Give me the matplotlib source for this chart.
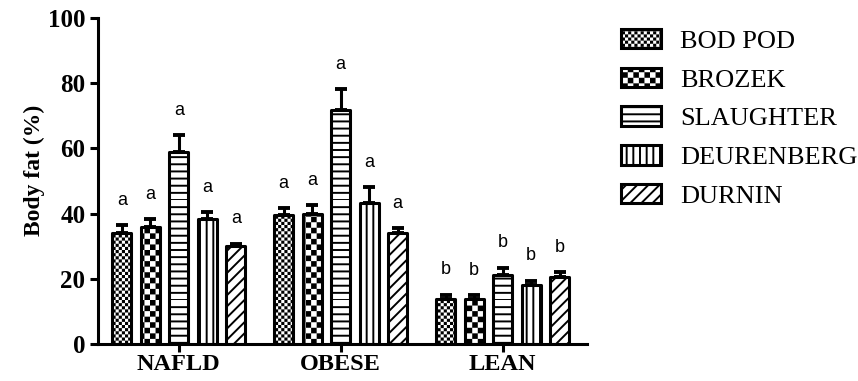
import warnings
import numpy as np
import matplotlib
matplotlib.use("Agg")
import matplotlib.pyplot as plt
from matplotlib import hatch as mhatch
from matplotlib.path import Path
from matplotlib.patches import Patch

warnings.filterwarnings("ignore")

groups = ["NAFLD", "OBESE", "LEAN"]
methods = ["BOD POD", "BROZEK", "SLAUGHTER", "DEURENBERG", "DURNIN"]

# mean body fat (%) per group, one value per method
nafld_mean = [34.0, 36.0, 59.0, 38.2, 30.0]
obese_mean = [39.5, 39.8, 71.7, 43.3, 33.9]
lean_mean = [13.8, 13.8, 21.3, 18.0, 20.5]

# upper error (SEM)
nafld_err = [2.4, 2.2, 5.0, 2.3, 0.8]
obese_err = [2.2, 2.7, 6.5, 4.9, 1.7]
lean_err = [1.3, 1.1, 2.1, 1.4, 1.6]

letters = ["a", "a", "b"]

plt.rcParams["hatch.linewidth"] = 1.4
plt.rcParams["hatch.color"] = "black"


class CheckerHatch(mhatch.HatchPatternBase):
    """Filled checkerboard squares; every 'c' adds two cells per tile."""

    def __init__(self, hatch, density):
        self.n = hatch.count("c") * 2
        self.num_vertices = (self.n * self.n // 2) * 5

    def set_vertices_and_codes(self, vertices, codes):
        n = self.n
        cell = 1.0 / n
        shrink = plt.rcParams["hatch.linewidth"] / 72.0 / 2
        k = 0
        for i in range(n):
            for j in range(n):
                if (i + j) % 2:
                    continue
                x0, y0 = i * cell + shrink, j * cell + shrink
                x1, y1 = (i + 1) * cell - shrink, (j + 1) * cell - shrink
                vertices[k:k + 5] = [(x0, y0), (x1, y0), (x1, y1), (x0, y1), (x0, y0)]
                codes[k:k + 5] = [Path.MOVETO, Path.LINETO, Path.LINETO,
                                  Path.LINETO, Path.CLOSEPOLY]
                k += 5


class LineHatch(mhatch.HatchPatternBase):
    """Evenly spaced lines: 'h' horizontal, 'v' vertical, one line per char."""

    def __init__(self, hatch, density):
        self.nh = hatch.count("h")
        self.nv = hatch.count("v")
        self.num_vertices = (self.nh + self.nv) * 2

    def set_vertices_and_codes(self, vertices, codes):
        k = 0
        if self.nh:
            for y in np.linspace(0, 1, self.nh, endpoint=False):
                vertices[k:k + 2] = [(0, y), (1, y)]
                codes[k:k + 2] = [Path.MOVETO, Path.LINETO]
                k += 2
        if self.nv:
            for x in np.linspace(0, 1, self.nv, endpoint=False):
                vertices[k:k + 2] = [(x, 0), (x, 1)]
                codes[k:k + 2] = [Path.MOVETO, Path.LINETO]
                k += 2


mhatch._hatch_types.append(CheckerHatch)
mhatch._hatch_types.append(LineHatch)

hatches = ["c" * 16, "c" * 9, "h" * 14, "v" * 15, "///"]

means = np.array([nafld_mean, obese_mean, lean_mean])
errs = np.array([nafld_err, obese_err, lean_err])

fig = plt.figure(figsize=(8.58, 3.81), dpi=100)
ax = fig.add_axes([0.114, 0.097, 0.570, 0.856])

serif = "Liberation Serif"
lw = 2.2
pitch = 0.176
width = 0.118
x = np.arange(len(groups))

for m, (name, hatch) in enumerate(zip(methods, hatches)):
    xs = x + (m - 2) * pitch
    ax.bar(xs, means[:, m], width, color="white", edgecolor="black",
           linewidth=lw, hatch=hatch, joinstyle="round", zorder=2)
    ax.errorbar(xs, means[:, m], yerr=[np.zeros(len(groups)), errs[:, m]],
                fmt="none", ecolor="black", elinewidth=lw, capsize=4.3,
                capthick=lw + 0.6, zorder=3)
    for g in range(len(groups)):
        ax.text(xs[g], means[g, m] + errs[g, m] + 5, letters[g],
                ha="center", va="bottom", fontsize=13,
                family="Liberation Sans")

ax.set_xlim(-0.5, 2.52)
ax.set_ylim(0, 100)
ax.set_yticks(np.arange(0, 101, 20))
ax.set_xticks(x)
ax.set_xticklabels(groups, fontsize=17.5, fontweight="bold", family=serif)
for t in ax.get_yticklabels():
    t.set_fontsize(18)
    t.set_fontweight("bold")
    t.set_family(serif)
ax.set_ylabel("Body fat (%)", fontsize=17, fontweight="bold", family=serif)
ax.yaxis.set_label_coords(-0.108, 0.534)

for side in ["top", "right"]:
    ax.spines[side].set_visible(False)
for side in ["left", "bottom"]:
    ax.spines[side].set_linewidth(lw)
ax.tick_params(axis="both", length=6, width=lw, pad=3)
ax.tick_params(axis="x", pad=1)

handles = [Patch(facecolor="white", edgecolor="black", linewidth=lw,
                 hatch=h, joinstyle="round") for h in hatches]
fig.legend(handles, methods, loc="upper left", bbox_to_anchor=(0.712, 0.952),
           frameon=False, prop={"family": serif, "size": 19},
           handlelength=1.5, handleheight=0.76, handletextpad=0.72,
           labelspacing=0.56, borderaxespad=0)

fig.savefig("out.png", dpi=100)
